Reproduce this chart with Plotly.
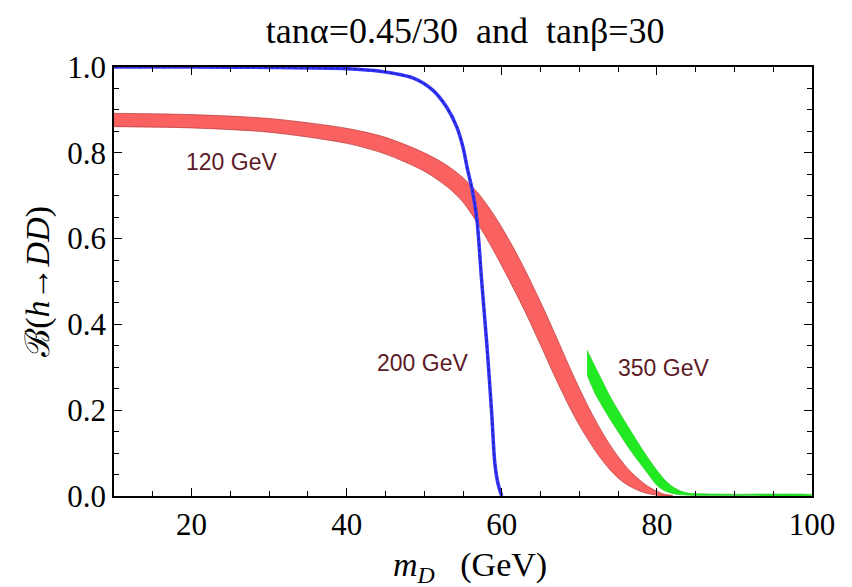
import plotly.graph_objects as go

# Branching ratio B(h -> DD) versus dark-matter mass m_D (GeV)

# 120 GeV curve (thin band, drawn as a line)
blue_x = [10, 20, 30, 40, 44.3, 48.6, 51.1, 52.9, 54.2, 55.0, 55.6, 56.2,
          56.8, 57.4, 58.1, 58.7, 59.1, 59.5, 59.9, 60.0]
blue_y = [1.0, 1.0, 0.999, 0.996, 0.99, 0.974, 0.946, 0.906, 0.86, 0.813,
          0.76, 0.713, 0.643, 0.503, 0.347, 0.193, 0.077, 0.03, 0.005, 0.0]

# 200 GeV band (upper / lower edges)
red_x = [10, 20, 30, 40, 45, 50, 53, 55, 57, 59, 61, 63, 65, 67, 69, 70, 71,
         72, 73, 74, 75, 76, 77, 78, 79, 80, 81, 82]
red_hi = [0.892, 0.889, 0.880, 0.857, 0.836, 0.800, 0.770, 0.742, 0.705,
          0.655, 0.595, 0.527, 0.452, 0.372, 0.290, 0.251, 0.214, 0.179,
          0.147, 0.118, 0.092, 0.069, 0.050, 0.034, 0.021, 0.011, 0.004, 0.001]
red_lo = [0.861, 0.858, 0.848, 0.822, 0.797, 0.757, 0.720, 0.685, 0.632,
          0.570, 0.502, 0.430, 0.352, 0.272, 0.198, 0.165, 0.135, 0.107,
          0.082, 0.060, 0.042, 0.028, 0.018, 0.010, 0.005, 0.002, 0.0, 0.0]

# 350 GeV band (upper / lower edges)
green_x = [71, 72, 73, 74, 75, 76, 77, 78, 79, 80, 81, 82, 83, 84, 86, 90, 100]
green_hi = [0.340, 0.303, 0.267, 0.231, 0.200, 0.170, 0.141, 0.112, 0.085,
            0.060, 0.038, 0.022, 0.012, 0.007, 0.005, 0.004, 0.003]
green_lo = [0.282, 0.240, 0.208, 0.178, 0.150, 0.122, 0.096, 0.072, 0.048,
            0.025, 0.012, 0.006, 0.003, 0.002, 0.001, 0.001, 0.001]

labels = ["120 GeV", "200 GeV", "350 GeV"]
label_x = [25.1, 49.8, 80.8]
label_y = [0.779, 0.309, 0.298]

x_ticks = [20, 40, 60, 80, 100]
y_ticks = [0.0, 0.2, 0.4, 0.6, 0.8, 1.0]


def band(xs, hi, lo):
    return xs + xs[::-1], hi + lo[::-1]


fig = go.Figure()

rx, ry = band(red_x, red_hi, red_lo)
fig.add_trace(go.Scatter(x=rx, y=ry, mode="lines", fill="toself",
                         fillcolor="#fa6262",
                         line=dict(color="#b83838", width=0.7,
                                   shape="spline", smoothing=0.8),
                         hoverinfo="skip", showlegend=False))

gx, gy = band(green_x, green_hi, green_lo)
fig.add_trace(go.Scatter(x=gx, y=gy, mode="lines", fill="toself",
                         fillcolor="#22ea22",
                         line=dict(color="#1fc81f", width=0.6,
                                   shape="spline", smoothing=0.6),
                         hoverinfo="skip", showlegend=False))

fig.add_trace(go.Scatter(x=blue_x, y=blue_y, mode="lines",
                         line=dict(color="#3434ff", width=3.5,
                                   shape="spline", smoothing=0.8),
                         hoverinfo="skip", showlegend=False))
fig.add_trace(go.Scatter(x=blue_x, y=blue_y, mode="lines",
                         line=dict(color="#1a1a90", width=1, dash="dot",
                                   shape="spline", smoothing=0.8),
                         hoverinfo="skip", showlegend=False))

serif = "Liberation Serif, Times New Roman, serif"

for t, lx, ly in zip(labels, label_x, label_y):
    fig.add_annotation(x=lx, y=ly, text=t, showarrow=False,
                       xanchor="center", yanchor="middle",
                       font=dict(family="Liberation Sans, Arial, sans-serif",
                                 size=23, color="#5c1a26"))

# axis titles
fig.add_annotation(xref="paper", yref="paper", x=0.51, y=-0.165,
                   xanchor="center", yanchor="middle",
                   text="<i>m</i><sub><i>D</i></sub>   (GeV)", showarrow=False,
                   font=dict(family=serif, size=34, color="black"))
fig.add_annotation(xref="paper", yref="paper", x=-0.11, y=0.50,
                   xanchor="center", yanchor="middle",
                   text="ℬ(<i>h</i>→<i>DD</i>)", textangle=-90,
                   showarrow=False,
                   font=dict(family=serif, size=34, color="black"))

axis_common = dict(showline=True, linecolor="black", linewidth=1.5,
                   mirror="ticks", ticks="inside", tickcolor="black",
                   ticklen=8, tickwidth=1.3, showgrid=False, zeroline=False,
                   tickfont=dict(family=serif, size=31, color="black"))

fig.update_xaxes(range=[10, 100], tickvals=x_ticks,
                 ticktext=[str(v) for v in x_ticks],
                 minor=dict(dtick=5, tick0=0, ticks="inside", ticklen=5,
                            tickcolor="black", tickwidth=1.1),
                 **axis_common)
fig.update_yaxes(range=[0, 1.0], tickvals=y_ticks,
                 ticktext=[f"{v:.1f}" for v in y_ticks],
                 minor=dict(dtick=0.05, tick0=0, ticks="inside", ticklen=5,
                            tickcolor="black", tickwidth=1.1),
                 **axis_common)

fig.update_layout(
    width=852, height=587,
    margin=dict(l=114, r=40, t=67, b=91),
    paper_bgcolor="white", plot_bgcolor="white",
    title=dict(text="tanα=0.45/30  and  tanβ=30", x=0.546, y=0.949,
               xanchor="center", yanchor="middle",
               font=dict(family=serif, size=36, color="black")),
)

fig.write_html("out.html")
